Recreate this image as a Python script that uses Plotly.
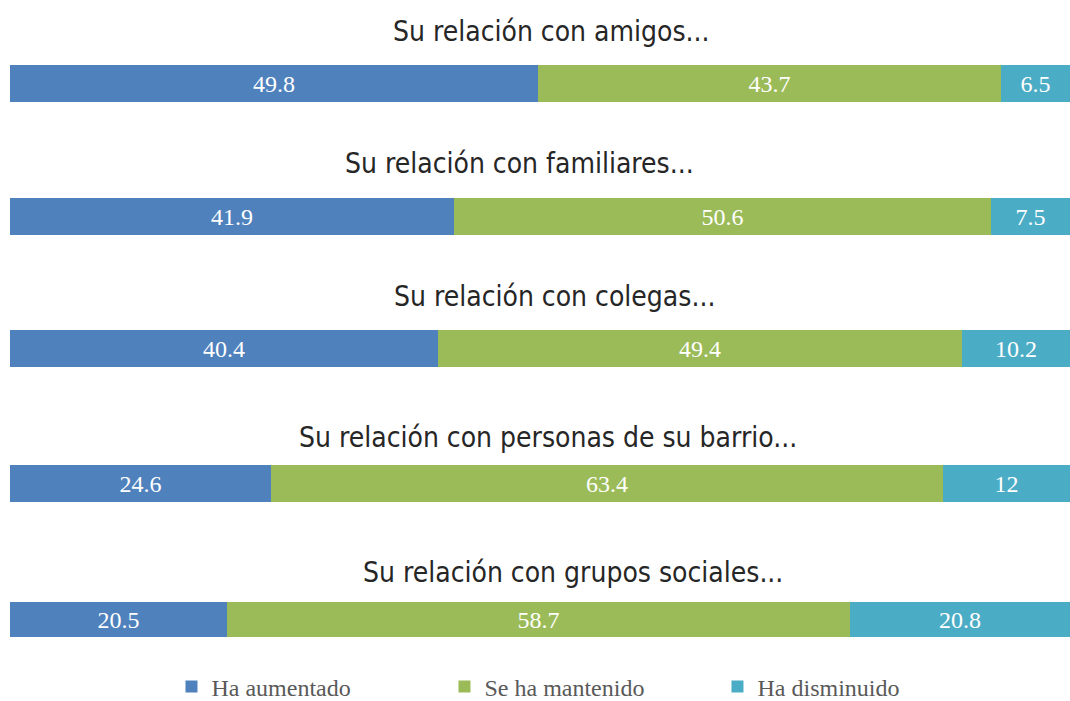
import plotly.graph_objects as go

titles = [
    "Su relación con amigos...",
    "Su relación con familiares...",
    "Su relación con colegas...",
    "Su relación con personas de su barrio...",
    "Su relación con grupos sociales...",
]
series_names = ["Ha aumentado", "Se ha mantenido", "Ha disminuido"]
aumentado = [49.8, 41.9, 40.4, 24.6, 20.5]
mantenido = [43.7, 50.6, 49.4, 63.4, 58.7]
disminuido = [6.5, 7.5, 10.2, 12, 20.8]

colors = ["#4F81BD", "#9BBB59", "#4BACC6"]
W, H = 1070, 701
bar_px = [(65, 102), (198, 235), (330, 367), (465, 502), (602, 637)]
title_px = [(551, 31), (519, 163), (554, 296), (548, 437), (573, 572)]
serif = "Liberation Serif, DejaVu Serif, serif"

fig = go.Figure()
values = [aumentado, mantenido, disminuido]
for i in range(len(titles)):
    ya = "y" if i == 0 else f"y{i+1}"
    for s, name in enumerate(series_names):
        fig.add_trace(go.Bar(
            x=[values[s][i]], y=[titles[i]], orientation="h",
            name=name, marker=dict(color=colors[s], line=dict(width=0)),
            text=[f"{values[s][i]:g}"], textposition="inside",
            insidetextanchor="middle",
            textfont=dict(family=serif, size=24, color="white"),
            legendgroup=name, showlegend=(i == 0),
            yaxis=ya, xaxis="x", hoverinfo="skip",
        ))

layout = dict(
    width=W, height=H, autosize=False, barmode="stack", bargap=0,
    plot_bgcolor="white", paper_bgcolor="white",
    margin=dict(l=10, r=0, t=0, b=0, autoexpand=False),
    xaxis=dict(range=[0, 100], visible=False, domain=[0, 1]),
    uniformtext=dict(mode="show", minsize=10),
    legend=dict(orientation="h", x=163 / W, xanchor="left", y=1 - 687 / H, yanchor="middle",
                font=dict(family=serif, size=24, color="#595959"),
                bgcolor="rgba(0,0,0,0)",
                entrywidth=228, entrywidthmode="pixels", traceorder="normal"),
    showlegend=True,
)
for i, (top, bot) in enumerate(bar_px):
    key = "yaxis" if i == 0 else f"yaxis{i+1}"
    layout[key] = dict(domain=[1 - bot / H, 1 - top / H], visible=False, anchor="x",
                       range=[-0.5, 0.5], fixedrange=True)
fig.update_layout(**layout)

for i, t in enumerate(titles):
    cx, cy = title_px[i]
    fig.add_annotation(text=t, xref="paper", yref="paper",
                       x=(cx - 10) / (W - 10), y=1 - cy / H, xanchor="center", yanchor="middle",
                       showarrow=False,
                       font=dict(family="Liberation Sans Narrow, DejaVu Sans Condensed, sans-serif",
                                 size=28, color="#262626"))

post = ("document.documentElement.style.margin='0px';"
        "document.body.style.margin='0px';"
        "document.body.style.padding='0px';"
        "document.body.style.overflow='hidden';"
        "var gd=document.getElementById('{plot_id}');"
        "gd.style.width='1070px';gd.style.height='701px';"
        "if(gd.parentElement){gd.parentElement.style.margin='0px';}"
        "Plotly.relayout(gd, {autosize:false, width: 1070, height: 701});")
fig.write_html("out.html", post_script=post,
               config={"displayModeBar": False, "responsive": False})
